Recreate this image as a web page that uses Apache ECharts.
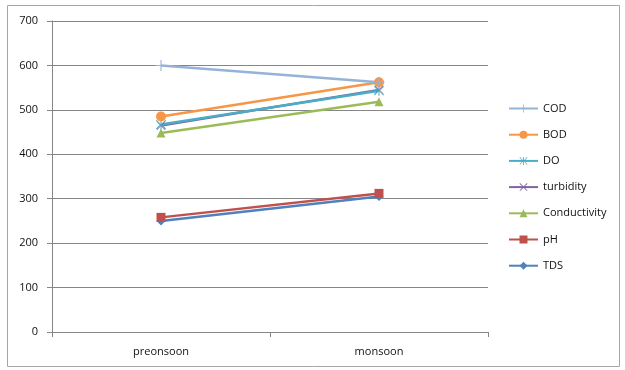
<!DOCTYPE html>
<html>
<head>
<meta charset="utf-8">
<script src="https://cdn.jsdelivr.net/npm/echarts@6/dist/echarts.min.js"></script>
<style>
  html, body { margin: 0; padding: 0; background: #fff; }
  #chart { width: 625px; height: 370px; }
</style>
</head>
<body>
<div id="chart"></div>
<script>
// Seasons on the category axis
const seasons = ['preonsoon', 'monsoon'];

// Water-quality parameters, one line each
const tds = [250, 305];
const ph = [258, 312];
const conductivity = [448, 518];
const turbidity = [465, 545];
const doValues = [467, 543];
const bod = [485, 562];
const cod = [600, 562];

// Value axis ticks
const yTicks = [0, 100, 200, 300, 400, 500, 600, 700];

// Marker shapes for the stroke-style symbols
const plusPath = 'path://M4.5,0 L5.5,0 L5.5,4.5 L10,4.5 L10,5.5 L5.5,5.5 L5.5,10 L4.5,10 L4.5,5.5 L0,5.5 L0,4.5 L4.5,4.5 Z';
const crossPath = 'path://M0.7,0 L5,4.3 L9.3,0 L10,0.7 L5.7,5 L10,9.3 L9.3,10 L5,5.7 L0.7,10 L0,9.3 L4.3,5 L0,0.7 Z';
const starPath = 'path://M4.5,0 L5.5,0 L5.5,4.5 L9.3,0.2 L10,0.9 L5.9,5 L10,9.1 L9.3,9.8 L5.5,5.5 L5.5,10 L4.5,10 L4.5,5.5 L0.7,9.8 L0,9.1 L4.1,5 L0,0.9 L0.7,0.2 L4.5,4.5 Z';

function line(name, data, color, symbol, size) {
  return {
    name: name,
    type: 'line',
    data: data,
    symbol: symbol,
    symbolSize: size,
    showSymbol: true,
    lineStyle: { color: color, width: 2.5 },
    itemStyle: { color: color, borderWidth: 0 },
    emphasis: { disabled: true },
    animation: false
  };
}

const series = [
  line('TDS', tds, '#4F81BD', 'diamond', 9),
  line('pH', ph, '#C0504D', 'rect', 9),
  line('Conductivity', conductivity, '#9BBB59', 'triangle', 9),
  line('turbidity', turbidity, '#8064A2', crossPath, 9),
  line('DO', doValues, '#4BACC6', starPath, 10),
  line('BOD', bod, '#F79646', 'circle', 10),
  line('COD', cod, '#95B3D7', plusPath, 11)
];

const chart = echarts.init(document.getElementById('chart'), null, { renderer: 'canvas' });
chart.setOption({
  animation: false,
  backgroundColor: '#ffffff',
  textStyle: { fontFamily: 'Open Sans, Liberation Sans, sans-serif' },
  graphic: [{
    type: 'rect',
    shape: { x: 7.5, y: 5.5, width: 612, height: 361 },
    style: { fill: 'none', stroke: '#a6a6a6', lineWidth: 1 },
    silent: true
  }],
  grid: { left: 52, right: 137, top: 21, bottom: 38 },
  legend: {
    orient: 'vertical',
    left: 508,
    top: 103,
    padding: 0,
    itemWidth: 29,
    itemHeight: 10,
    itemGap: 15.2,
    data: ['COD', 'BOD', 'DO', 'turbidity', 'Conductivity', 'pH', 'TDS'],
    textStyle: { fontSize: 11, color: '#111' }
  },
  xAxis: {
    type: 'category',
    data: seasons,
    boundaryGap: true,
    axisLine: { lineStyle: { color: '#868686', width: 1 } },
    axisTick: { show: true, length: 5, lineStyle: { color: '#868686' } },
    axisLabel: { fontSize: 11, color: '#111', margin: 14 }
  },
  yAxis: {
    type: 'value',
    min: yTicks[0],
    max: yTicks[yTicks.length - 1],
    interval: yTicks[1] - yTicks[0],
    axisLine: { show: true, lineStyle: { color: '#868686', width: 1 } },
    axisTick: { show: true, length: 5, lineStyle: { color: '#868686' } },
    axisLabel: { fontSize: 11, color: '#111', margin: 14 },
    splitLine: { show: true, lineStyle: { color: '#868686', width: 1 } }
  },
  series: series
});
</script>
</body>
</html>
